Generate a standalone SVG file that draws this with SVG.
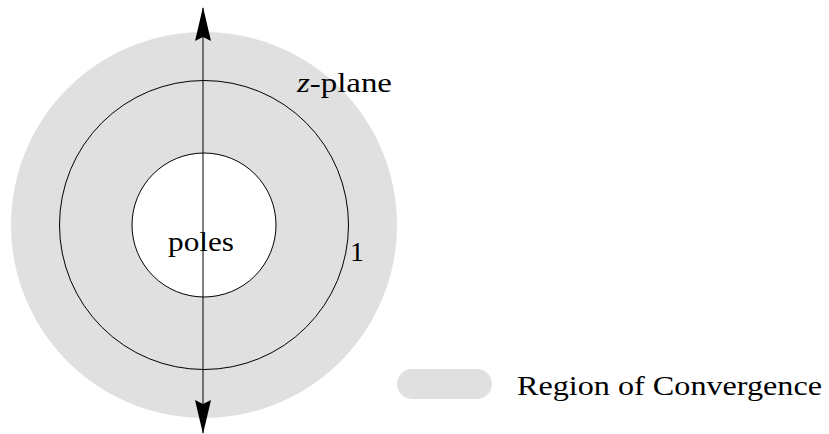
<svg xmlns="http://www.w3.org/2000/svg" width="829" height="434" viewBox="0 0 829 434">
<style>
.t{font-family:"Liberation Serif","DejaVu Serif",serif;font-size:28px;fill:#000}
.ln{fill:none;stroke:#000;stroke-width:1}
</style>
<defs>
<marker id="ah" viewBox="0 0 34 16" refX="33" refY="8" markerWidth="34" markerHeight="16" markerUnits="userSpaceOnUse" orient="auto">
<path d="M0,0 L34,8 L0,16 L4,8 Z" fill="#000"/>
</marker>
</defs>
<rect width="829" height="434" fill="#fff"/>
<g id="roc"><circle cx="204" cy="225" r="193" fill="#e0e0e0"/></g>
<g id="unit-circle"><circle cx="204" cy="225" r="144.5" class="ln"/></g>
<g id="poles-circle"><circle cx="204" cy="225" r="72" fill="#fff" stroke="#000" stroke-width="1"/></g>
<g id="connectors">
<line x1="203" y1="225" x2="203" y2="8" class="ln" marker-end="url(#ah)"/>
<line x1="203" y1="225" x2="203" y2="433" class="ln" marker-end="url(#ah)"/>
</g>
<g id="labels">
<text class="t" x="297" y="92" textLength="95" lengthAdjust="spacingAndGlyphs"><tspan font-style="italic">z</tspan>-plane</text>
<text class="t" x="350" y="261">1</text>
<text class="t" x="168" y="251" textLength="66" lengthAdjust="spacingAndGlyphs">poles</text>
</g>
<g id="legend">
<rect x="397" y="369" width="95" height="30" rx="15" fill="#e0e0e0"/>
<text class="t" x="517" y="395" textLength="305" lengthAdjust="spacingAndGlyphs">Region of Convergence</text>
</g>
</svg>
